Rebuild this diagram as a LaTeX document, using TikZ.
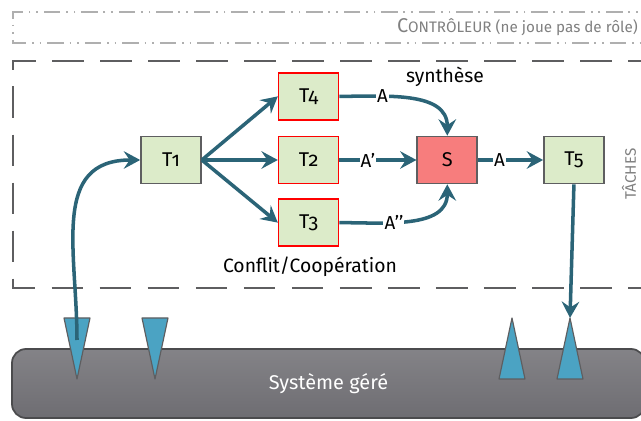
\documentclass[tikz,border=0pt]{standalone}
\usepackage{fontspec}
\setmainfont[Numbers=OldStyle]{Fira Sans}
\usetikzlibrary{arrows.meta,positioning,calc}
\usepackage{xcolor}
\definecolor{linkcol}{HTML}{2B6477}
\definecolor{taskgreen}{HTML}{DCEBC9}
\definecolor{synthred}{HTML}{F77D7D}
\definecolor{boxgray}{HTML}{5E5E60}
\definecolor{probeblue}{HTML}{4BA3C3}
\definecolor{barfill}{HTML}{6E6D72}
\definecolor{ctrlgray}{HTML}{AFAFAF}

\begin{document}
\begin{tikzpicture}[x=0.03cm, y=0.03cm,
    task/.style={rectangle, draw=boxgray, fill=taskgreen, line width=1.4pt, minimum width=1.8cm, minimum height=1.41cm, font=\fontsize{17}{19}\selectfont},
    rtask/.style={task, draw=red},
    flow/.style={-{Stealth[length=14pt,width=15pt,inset=5pt]}, line width=3pt, draw=linkcol},
    lbl/.style={fill=white, inner sep=1pt, font=\fontsize{16}{18}\selectfont},
    note/.style={font=\fontsize{16.5}{19}\selectfont},
    probe/.style={fill=probeblue, draw=boxgray, line width=1pt, line join=round}
  ]
    \useasboundingbox (0,0) rectangle (641,421);

    % zones
    \draw[ctrlgray, line width=1.5pt, dash pattern=on 14pt off 5pt on 1.5pt off 5pt on 1.5pt off 5pt]
      (660,409) -- (13,409) -- (13,378) -- (660,378);
    \node[anchor=east, text=gray, inner sep=0pt] (ctrl) at (638,394)
      {{\fontsize{17}{19}\selectfont C}{\fontsize{13}{15}\selectfont ONTRÔLEUR (ne joue pas de rôle)}};
    \draw[boxgray, line width=1.5pt, dash pattern=on 27pt off 14pt]
      (660,360) -- (13,360) -- (13,133) -- (660,133);
    \node[rotate=90, text=gray, inner sep=0pt, font=\fontsize{13}{15}\selectfont] (taches) at (629,247) {TÂCHES};

    % taches
    \node[task] (t1) at (171,261) {T1};
    \node[rtask, right=2.28cm of t1] (t2) {T2};
    \node[rtask, above=0.45cm of t2] (t4) {T4};
    \node[rtask, below=0.42cm of t2] (t3) {T3};
    \node[task, fill=synthred, right=2.31cm of t2] (s) {S};
    \node[task, right=1.95cm of s] (t5) {T5};
    \node[note] (synth) at (445,344) {synthèse};
    \node[note] (conflit) at (310,154) {Conflit/Coopération};

    % systeme gere
    \node[rectangle, rounded corners=12pt, draw=boxgray!80!black, line width=1.5pt,
      top color=barfill!85!white, bottom color=barfill, text=white,
      minimum width=18.99cm, minimum height=2.07cm, font=\fontsize{17}{19}\selectfont]
      (sys) at (328.5,37.5) {Système géré};
    \foreach \x in {77,155}
      \draw[probe] (\x-13,103) -- (\x+13,103) -- (\x,42) -- cycle;
    \foreach \x in {512,570}
      \draw[probe] (\x-13,42) -- (\x+13,42) -- (\x,103) -- cycle;
    \coordinate (inL) at (77,81);
    \coordinate (outR) at (570,103);

    % fleches
    \draw[flow] (inL) to[out=90, in=180, looseness=1.2] (t1.west);
    \draw[flow] (t1.east) -- (t4.west);
    \draw[flow] (t1.east) -- (t2.west);
    \draw[flow] (t1.east) -- (t3.west);
    \draw[flow] (t4.east) to[out=0, in=90] node[lbl, pos=0.3] {A} (s.north);
    \draw[flow] (t2.east) -- node[lbl, pos=0.37] {A’} (s.west);
    \draw[flow] (t3.east) to[out=0, in=-90] node[lbl, pos=0.38] {A’’} (s.south);
    \draw[flow] (s.east) -- node[lbl, pos=0.33] {A} (t5.west);
    \draw[flow] (t5.south) -- (outR);
  \end{tikzpicture}
\end{document}
